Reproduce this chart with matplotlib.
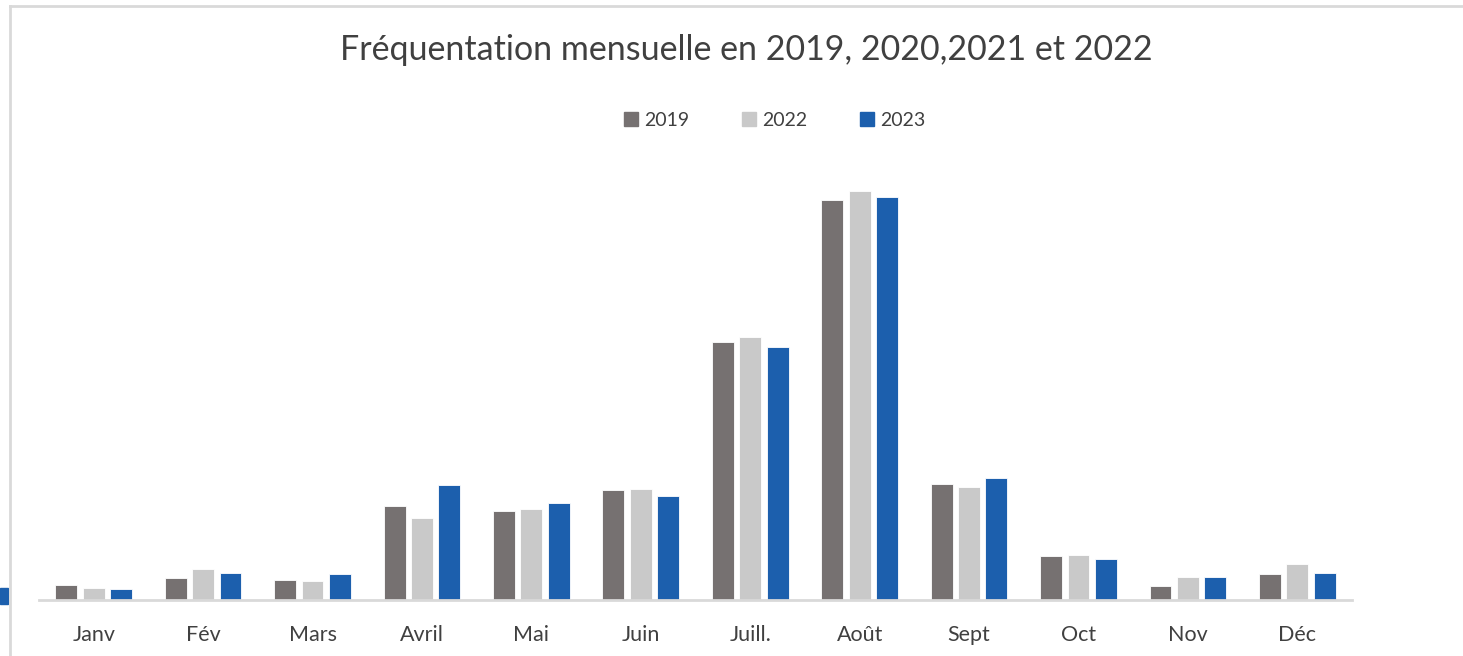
import matplotlib
matplotlib.use("Agg")
import matplotlib.pyplot as plt
from matplotlib.patches import Rectangle
from matplotlib.lines import Line2D
import numpy as np

months = ["Janv", "Fév", "Mars", "Avril", "Mai", "Juin", "Juill.", "Août", "Sept", "Oct", "Nov", "Déc"]
series_names = ["2019", "2022", "2023"]
v2019 = [15, 22.5, 20, 94.5, 89, 110, 258, 400, 116, 44, 14.5, 26]
v2022 = [12, 31.5, 19, 82, 91, 111, 263, 409, 113.5, 45, 23, 36.5]
v2023 = [11, 27.5, 26, 115, 97, 104, 253, 403, 122, 41, 23, 27]
colors = ["#767171", "#C9C9C9", "#1C5FAD"]
title = "Fréquentation mensuelle en 2019, 2020,2021 et 2022"

plt.rcParams['font.family'] = ['Lato', 'DejaVu Sans']

fig = plt.figure(figsize=(14.63, 6.56), dpi=100)
W, H = 1463, 656
ax = fig.add_axes([39 / W, 1 - 600 / H, (1352 - 39) / W, (600 - 170) / H])

x = np.arange(len(months))
for i, (vals, c, name) in enumerate(zip([v2019, v2022, v2023], colors, series_names)):
    ax.bar(x + (i - 1) * 0.25, vals, width=0.2, color=c, edgecolor="white", linewidth=0.6, label=name, zorder=2)

ax.set_xlim(-0.5, len(months) - 0.5)
ax.set_ylim(0, 430)
ax.set_yticks([])
ax.set_xticks(x)
ax.set_xticklabels(months, fontsize=15.5, color="#404040")
ax.tick_params(axis="x", length=0, pad=18)
for s in ["top", "right", "left"]:
    ax.spines[s].set_visible(False)
ax.spines["bottom"].set_color("#D9D9D9")
ax.spines["bottom"].set_linewidth(2)

fig.text(746 / W, 1 - 50 / H, title, ha="center", va="center", fontsize=24.5, color="#404040")

handles = [Rectangle((0, 0), 1, 1, color=c) for c in colors]
fig.legend(handles, series_names, loc="center", bbox_to_anchor=(775 / W, 1 - 120 / H), ncol=3,
           frameon=False, fontsize=14, handlelength=0.7, handleheight=0.7, handletextpad=0.35,
           columnspacing=2.7, labelcolor="#404040")

# frame lines (top and left) and small blue element at left edge
fig.add_artist(Line2D([9.5 / W, 1], [1 - 5.5 / H, 1 - 5.5 / H], color="#D9D9D9", lw=2))
fig.add_artist(Line2D([9.5 / W, 9.5 / W], [0, 1 - 5.5 / H], color="#D9D9D9", lw=2))
fig.add_artist(Rectangle((0, 1 - 604 / H), 8 / W, 16 / H, color="#1C5FAD", transform=fig.transFigure))

fig.savefig("out.png", dpi=100)
